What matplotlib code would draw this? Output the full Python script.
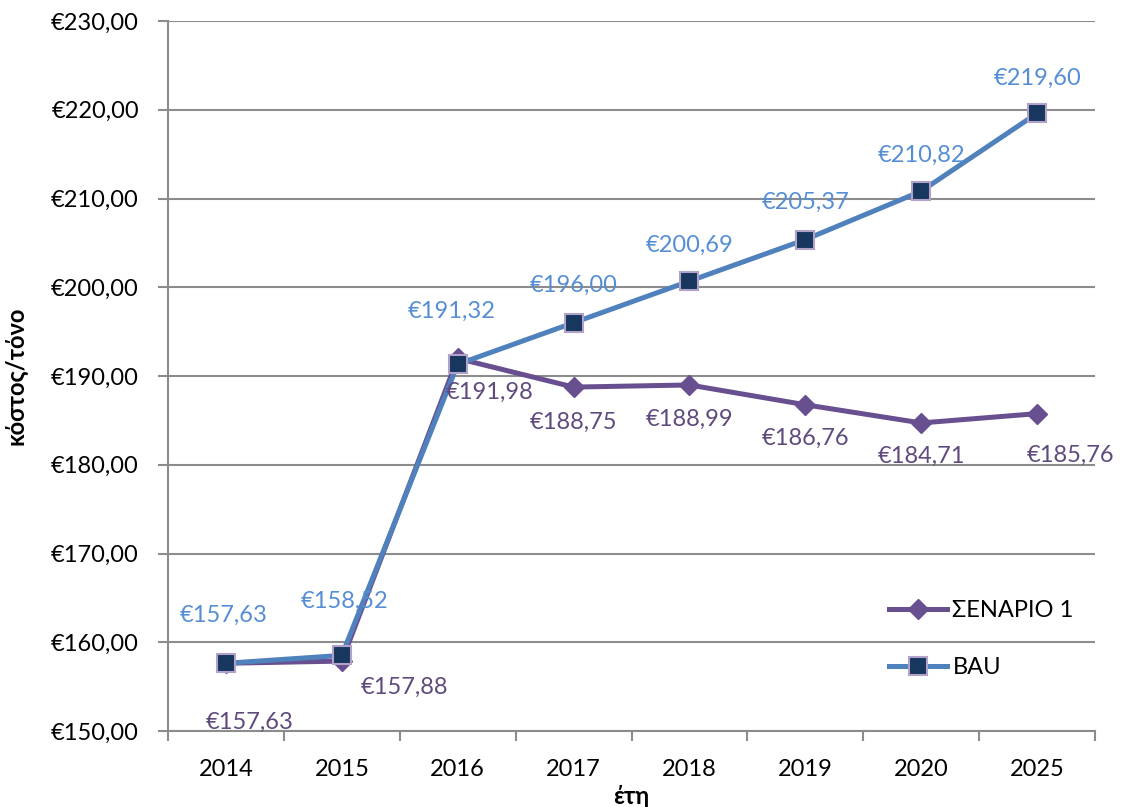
import matplotlib
matplotlib.use("Agg")
import matplotlib.pyplot as plt
from matplotlib.ticker import FuncFormatter, FixedLocator

plt.rcParams['font.family'] = ['Lato', 'DejaVu Sans']

years = ["2014", "2015", "2016", "2017", "2018", "2019", "2020", "2025"]
scenario1 = [157.63, 157.88, 191.98, 188.75, 188.99, 186.76, 184.71, 185.76]
bau = [157.63, 158.52, 191.32, 196.00, 200.69, 205.37, 210.82, 219.60]
series_names = ["ΣΕΝΑΡΙΟ 1", "BAU"]
y_label = "κόστος/τόνο"
x_label = "έτη"

# label offsets in pixels (dx, dy) relative to each point
bau_offsets = [(-2, 48), (3, 54), (-6, 53), (0, 37), (0, 36), (0, 37), (0, 36), (0, 35)]
sc_offsets = [(24, -59), (63, -26), (32, -34), (0, -35), (0, -34), (0, -34), (0, -33), (33, -42)]

BAU_LINE = "#4F81BD"
BAU_FACE = "#17375E"
BAU_EDGE = "#B3A2C7"
SC_LINE = "#684F90"
BAU_TEXT = "#558ED5"
SC_TEXT = "#5F4A7D"
GRID = "#8C8C8C"
FS = 17


def euro(v, pos=None):
    return "€" + f"{v:,.2f}".replace(",", " ").replace(".", ",").replace(" ", ".")


fig = plt.figure(figsize=(11.28, 8.07), dpi=100)
ax = fig.add_axes([168 / 1128, 1 - 731 / 807, (1095 - 168) / 1128, (731 - 21) / 807])

x = list(range(len(years)))
ax.plot(x, scenario1, color=SC_LINE, lw=3.6, marker="D", ms=10,
        mfc=SC_LINE, mec=SC_LINE, label=series_names[0], zorder=3)
ax.plot(x, bau, color=BAU_LINE, lw=3.6, marker="s", ms=12.5,
        mfc=BAU_FACE, mec=BAU_EDGE, mew=1.5, label=series_names[1], zorder=4)

for xi, v, (dx, dy) in zip(x, bau, bau_offsets):
    ax.annotate(euro(v), (xi, v), xytext=(dx * 0.72, dy * 0.72), textcoords="offset points",
                ha="center", va="center", color=BAU_TEXT, fontsize=FS, zorder=6)
for xi, v, (dx, dy) in zip(x, scenario1, sc_offsets):
    ax.annotate(euro(v), (xi, v), xytext=(dx * 0.72, dy * 0.72), textcoords="offset points",
                ha="center", va="center", color=SC_TEXT, fontsize=FS, zorder=6)

ax.set_xlim(-0.5, len(years) - 0.5)
ax.set_ylim(150, 230)
ax.set_yticks(range(150, 231, 10))
ax.yaxis.set_major_formatter(FuncFormatter(euro))
ax.set_xticks(x)
ax.set_xticklabels(years)
ax.xaxis.set_minor_locator(FixedLocator([i - 0.5 for i in range(len(years) + 1)]))
ax.tick_params(axis="x", which="major", length=0, pad=20, labelsize=FS)
ax.tick_params(axis="x", which="minor", length=7, width=1.5, color=GRID, direction="out")
ax.tick_params(axis="y", length=7, width=1.5, color=GRID, direction="out", pad=14, labelsize=FS)

ax.grid(axis="y", color=GRID, lw=1.5)
ax.set_axisbelow(True)
for side in ("top", "right"):
    ax.spines[side].set_visible(False)
for side in ("left", "bottom"):
    ax.spines[side].set_color(GRID)
    ax.spines[side].set_linewidth(1.5)

ax.set_ylabel(y_label, fontsize=FS, fontweight="bold", labelpad=17)
ax.set_xlabel(x_label, fontsize=FS, fontweight="bold", labelpad=4)

leg = ax.legend(loc="lower right", bbox_to_anchor=(1.0, 0.045), frameon=False,
                fontsize=FS, handlelength=2.45, labelspacing=1.5, handletextpad=0.25)

fig.savefig("out.png", dpi=100)
